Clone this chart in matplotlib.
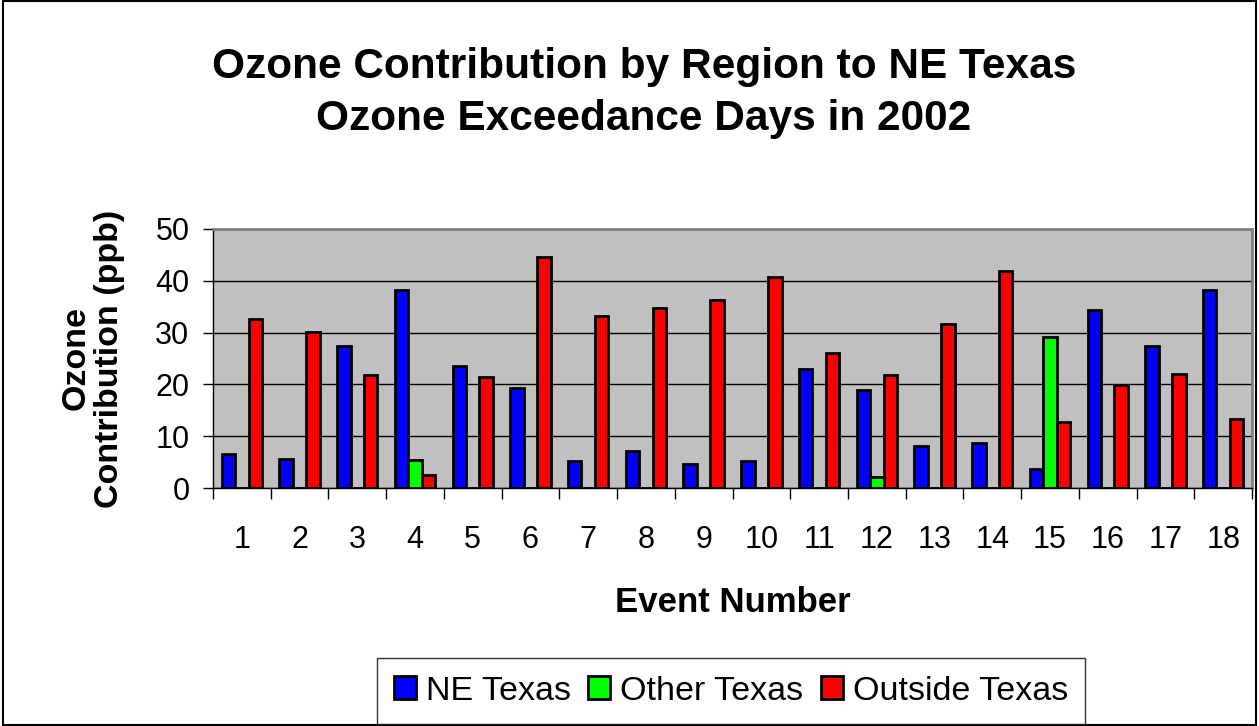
import numpy as np
import matplotlib
matplotlib.use('Agg')
import matplotlib.pyplot as plt
from matplotlib.patches import Rectangle

plt.rcParams['font.family'] = ['Liberation Sans', 'DejaVu Sans']

events = list(range(1, 19))
ne_texas = [6.6, 5.6, 27.5, 38.3, 23.5, 19.4, 5.2, 7.2, 4.6, 5.2, 23.0, 18.9, 8.2, 8.7, 3.6, 34.3, 27.5, 38.3]
other_texas = [0, 0, 0, 5.5, 0, 0, 0, 0, 0, 0, 0, 2.1, 0, 0, 29.1, 0, 0, 0]
outside_texas = [32.7, 30.1, 21.9, 2.6, 21.5, 44.5, 33.2, 34.8, 36.3, 40.8, 26.1, 21.9, 31.7, 41.9, 12.8, 19.9, 22.0, 13.3]

fig = plt.figure(figsize=(12.59, 7.26), dpi=100)
ax = fig.add_axes([213 / 1259, 1 - 488 / 726, (1252 - 213) / 1259, (488 - 229) / 726])

x = np.arange(len(events))
w = 0.233
kw = dict(edgecolor='black', linewidth=2, zorder=3)
ax.bar(x - w, ne_texas, w, color='#0000ff', label='NE Texas', **kw)
ax.bar(x, other_texas, w, color='#00ff00', label='Other Texas', **kw)
ax.bar(x + w, outside_texas, w, color='#ff0000', label='Outside Texas', **kw)

ax.set_facecolor('#c0c0c0')
ax.set_xlim(-0.5, len(events) - 0.5)
ax.set_ylim(0, 50)
ax.set_yticks(range(0, 51, 10))
ax.yaxis.grid(True, color='black', linewidth=1, zorder=0)
ax.set_axisbelow(True)
ax.set_xticks(x)
ax.set_xticklabels([str(e) for e in events])
ax.set_xticks(np.arange(-0.5, len(events), 1), minor=True)
ax.tick_params(axis='x', which='major', length=0, pad=27, labelsize=22)
ax.tick_params(axis='x', which='minor', length=8, width=1)
ax.tick_params(axis='y', length=7, width=1, labelsize=22, pad=10)
for s in ['top', 'right']:
    ax.spines[s].set_color('#808080')
    ax.spines[s].set_linewidth(2)
for s in ['left', 'bottom']:
    ax.spines[s].set_color('black')
    ax.spines[s].set_linewidth(1)

ax.set_xlabel('Event Number', fontsize=25, fontweight='bold', labelpad=22)
ax.set_ylabel('Ozone\nContribution (ppb)', fontsize=24.5, fontweight='bold', labelpad=22, linespacing=1.1)

fig.text(644 / 1259, 1 - 93 / 726, 'Ozone Contribution by Region to NE Texas\nOzone Exceedance Days in 2002',
         ha='center', va='center', fontsize=30.5, fontweight='bold', linespacing=1.38)

leg = fig.legend(loc='center', bbox_to_anchor=(731 / 1259, 1 - 691 / 726), ncol=3, fontsize=24.5,
                 frameon=True, fancybox=False, edgecolor='black', handlelength=0.65, handleheight=0.65,
                 handletextpad=0.3, columnspacing=0.5, borderpad=0.5)
leg.get_frame().set_linewidth(1)

fig.patches.append(Rectangle((0.002, 0.002), 0.996, 0.996, transform=fig.transFigure,
                             fill=False, edgecolor='black', linewidth=1.5))

fig.savefig('out.png', dpi=100)
